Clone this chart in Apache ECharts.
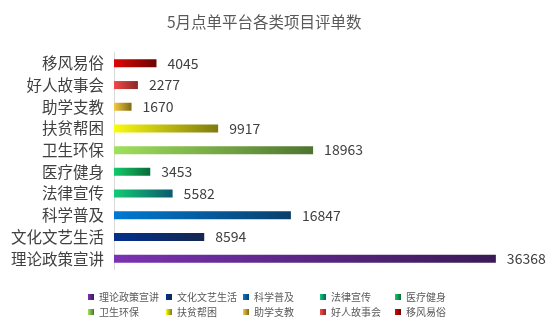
<!DOCTYPE html>
<html>
<head>
<meta charset="utf-8">
<script src="https://cdn.jsdelivr.net/npm/echarts@6/dist/echarts.min.js"></script>
<style>html,body{margin:0;padding:0;background:#fff;}#c{width:554px;height:331px;}</style>
</head>
<body>
<div id="c"></div>
<script>
var categories = ['理论政策宣讲','文化文艺生活','科学普及','法律宣传','医疗健身','卫生环保','扶贫帮困','助学支教','好人故事会','移风易俗'];
var values = [36368, 8594, 16847, 5582, 3453, 18963, 9917, 1670, 2277, 4045];
var colorStart = ['#7a32b2','#02318c','#0079d2','#12cb72','#12cb6a','#a0e05c','#fafa10','#f6c844','#f44848','#e00404'];
var colorEnd = ['#3a1a56','#16264f','#0a3f6c','#0a5a6e','#0a6a38','#4e7430','#7e7a10','#7e6a14','#882828','#6a0404'];
var legendRow1 = categories.slice(0,5);
var legendRow2 = categories.slice(5,10);

var font = '"Noto Sans CJK SC", "Noto Sans", sans-serif';
var series = categories.map(function(name, i){
  var d = categories.map(function(_, j){ return j === i ? values[i] : '-'; });
  return {
    name: name,
    type: 'bar',
    stack: 'all',
    barWidth: 8,
    data: d,
    itemStyle: {
      color: new echarts.graphic.LinearGradient(0,0,1,0,[
        {offset:0,color:colorStart[i]},{offset:1,color:colorEnd[i]}])
    },
    label: {show: true, position: 'right', distance: 11, color: '#404040', fontSize: 14, fontFamily: font}
  };
});
var colLeft = [88, 166, 243, 320, 395];
var rowTop = [292, 307];
var legends = [];
[legendRow1, legendRow2].forEach(function(row, r){
  row.forEach(function(name, c){
    legends.push({
      orient: 'horizontal', left: colLeft[c], top: rowTop[r], padding: 0,
      icon: 'rect', itemWidth: 6, itemHeight: 6, itemGap: 5,
      data: [name],
      textStyle: {color: '#595959', fontSize: 10, fontFamily: font}
    });
  });
});
var chart = echarts.init(document.getElementById('c'));
chart.setOption({
  animation: false,
  title: {text: '5月点单平台各类项目评单数', left: 162, top: 9,
    textStyle: {color: '#595959', fontSize: 15.5, fontWeight: 'normal', fontFamily: font}},
  legend: legends,
  grid: {left: 114, top: 52.5, height: 217, right: 20},
  xAxis: {type: 'value', min: 0, max: 40000, show: false},
  yAxis: {type: 'category', data: categories,
    axisLine: {show: true, lineStyle: {color: '#d9d9d9', width: 1}},
    axisTick: {show: false},
    axisLabel: {color: '#404040', fontSize: 15.5, margin: 10, fontFamily: font}},
  series: series
});
</script>
</body>
</html>
